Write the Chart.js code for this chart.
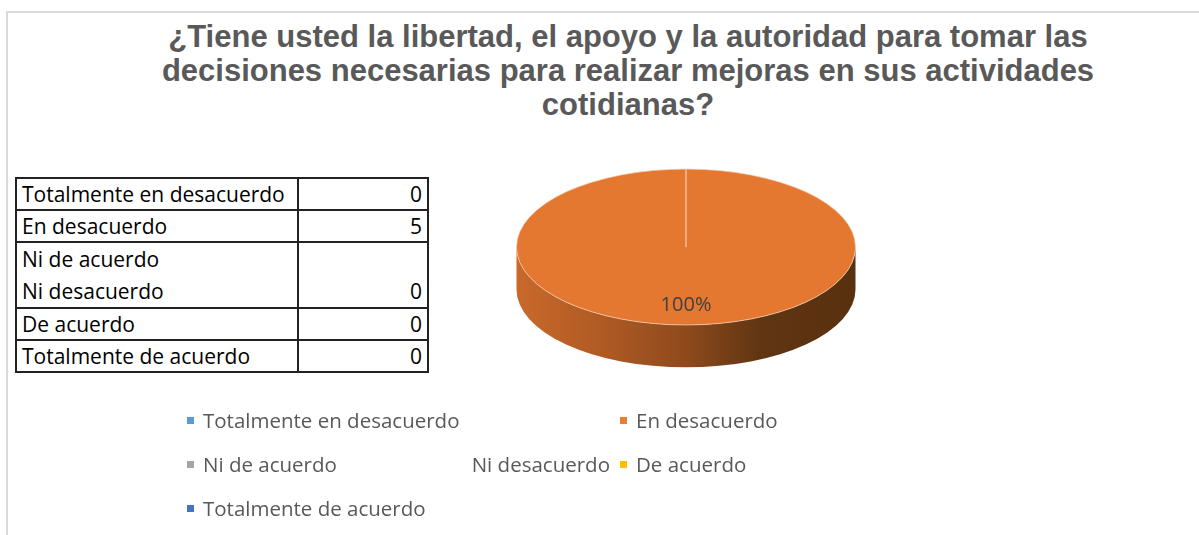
<!doctype html>
<html lang="es">
<head>
    <meta charset="utf-8">
    <title>Libertad, apoyo y autoridad</title>
    <script src="https://cdn.jsdelivr.net/npm/chart.js@4.4.1/dist/chart.umd.min.js"></script>
    <style>
        body { margin: 0; width: 1199px; height: 535px; overflow: hidden; position: relative; background: #fff; font-family: "Open Sans", sans-serif; }
        .marco { position: absolute; left: 6px; top: 11px; right: 0; bottom: -4px; border-top: 2px solid #d9d9d9; border-left: 2px solid #d9d9d9; }
        h1 { position: absolute; left: 100px; width: 1056px; top: 20px; margin: 0; text-align: center;
             font: bold 31px/34px "Liberation Sans", Arial, sans-serif; color: #595959; }
        table { position: absolute; left: 15px; top: 177px; width: 414px; border-collapse: collapse; font-size: 21px; color: #000; }
        td { border: 2px solid #222; padding: 0 5px; line-height: 30px; }
        td.doble { line-height: 32px; }
        td.num { text-align: right; width: 118px; vertical-align: bottom; }
        #pastel { position: absolute; left: 516px; top: 77px; width: 340px; height: 340px; }
        #leyenda { position: absolute; left: 187px; top: 404px; width: 620px; display: grid; grid-template-columns: 433px 1fr;
                   row-gap: 12px; font-size: 20.5px; color: #595959; }
        #leyenda .item { display: flex; align-items: center; height: 32px; }
        #leyenda .caja { width: 7px; height: 7px; margin-right: 9px; flex: none; }
        #leyenda .texto { display: flex; justify-content: space-between; flex: 1; padding-right: 10px; white-space: nowrap; }
    </style>
</head>
<body>
<div class="marco"></div>
<h1>¿Tiene usted la libertad, el apoyo y la autoridad para tomar las<br>decisiones necesarias para realizar mejoras en sus actividades<br>cotidianas?</h1>
<table id="tabla"></table>
<div id="pastel"><canvas id="grafico"></canvas></div>
<div id="leyenda"></div>
<script>
    const categorias = ['Totalmente en desacuerdo', 'En desacuerdo', 'Ni de acuerdo\nNi desacuerdo', 'De acuerdo', 'Totalmente de acuerdo'];
    const respuestas = [0, 5, 0, 0, 0];
    const colores = ['#5B9BD5', '#ED7D31', '#A5A5A5', '#FFC000', '#4472C4'];
    const coloresCara = ['#5896cf', '#e47830', '#a0a0a0', '#f5ba05', '#416dbd'];

    // tabla de datos a la izquierda
    var tabla = document.getElementById('tabla');
    categorias.forEach(function (cat, i) {
        var tr = document.createElement('tr');
        var td1 = document.createElement('td');
        td1.innerHTML = cat.replace('\n', '<br>');
        var td2 = document.createElement('td');
        td2.className = 'num';
        td2.textContent = respuestas[i];
        if (cat.indexOf('\n') >= 0) {
            td1.className = 'doble';
            td2.className = 'num doble';
        }
        tr.appendChild(td1);
        tr.appendChild(td2);
        tabla.appendChild(tr);
    });

    // leyenda estilo Excel
    var leyenda = document.getElementById('leyenda');
    categorias.forEach(function (cat, i) {
        var item = document.createElement('div');
        item.className = 'item';
        var caja = document.createElement('span');
        caja.className = 'caja';
        caja.style.background = colores[i];
        var texto = document.createElement('span');
        texto.className = 'texto';
        cat.split('\n').forEach(function (parte) {
            var s = document.createElement('span');
            s.textContent = parte;
            texto.appendChild(s);
        });
        item.appendChild(caja);
        item.appendChild(texto);
        leyenda.appendChild(item);
    });

    const inclinacion = 0.46;
    const profundidad = 0.25;

    const pastel3d = {
        id: 'pastel3d',
        beforeDatasetsDraw: function (chart) {
            var ctx = chart.ctx;
            var arcos = chart.getDatasetMeta(0).data;
            arcos.forEach(function (arco, i) {
                if (!respuestas[i]) return;
                var cx = arco.x, cy = arco.y, r = arco.outerRadius;
                var ry = r * inclinacion, d = r * profundidad;
                var a = Math.max(arco.startAngle, 0);
                var b = Math.min(arco.endAngle, Math.PI);
                if (b <= a) return;
                var grad = ctx.createLinearGradient(cx - r, 0, cx + r, 0);
                grad.addColorStop(0, '#c8692b');
                grad.addColorStop(0.25, '#b05a24');
                grad.addColorStop(0.5, '#8e4a1c');
                grad.addColorStop(0.72, '#603513');
                grad.addColorStop(1, '#58310f');
                ctx.save();
                ctx.beginPath();
                ctx.ellipse(cx, cy, r, ry, 0, a, b);
                ctx.lineTo(cx + r * Math.cos(b), cy + ry * Math.sin(b) + d);
                ctx.ellipse(cx, cy + d, r, ry, 0, b, a, true);
                ctx.closePath();
                ctx.fillStyle = grad;
                ctx.fill();
                ctx.restore();
            });
            var p = arcos[0];
            ctx.save();
            ctx.translate(p.x, p.y);
            ctx.scale(1, inclinacion);
            ctx.translate(-p.x, -p.y);
        },
        afterDatasetsDraw: function (chart) {
            var ctx = chart.ctx;
            ctx.restore();
            var total = respuestas.reduce(function (s, v) { return s + v; }, 0);
            chart.getDatasetMeta(0).data.forEach(function (arco, i) {
                if (!respuestas[i]) return;
                var m = (arco.startAngle + arco.endAngle) / 2;
                var r = arco.outerRadius * 0.75;
                ctx.save();
                ctx.fillStyle = '#404040';
                ctx.font = '20px "Open Sans"';
                ctx.textAlign = 'center';
                ctx.textBaseline = 'middle';
                ctx.fillText(Math.round(respuestas[i] / total * 100) + '%',
                    arco.x + r * Math.cos(m), arco.y + r * Math.sin(m) * inclinacion);
                ctx.restore();
            });
        }
    };

    var ctx = document.getElementById('grafico').getContext('2d');
    var grafico = new Chart(ctx, {
        type: 'pie',
        data: {
            labels: categorias,
            datasets: [{
                data: respuestas,
                backgroundColor: coloresCara,
                borderColor: '#f6d2b6',
                borderWidth: 1
            }]
        },
        options: {
            responsive: true,
            maintainAspectRatio: false,
            animation: false,
            layout: { padding: 0 },
            plugins: {
                legend: { display: false },
                title: { display: false },
                tooltip: { enabled: false }
            }
        },
        plugins: [pastel3d]
    });
</script>
</body>
</html>
